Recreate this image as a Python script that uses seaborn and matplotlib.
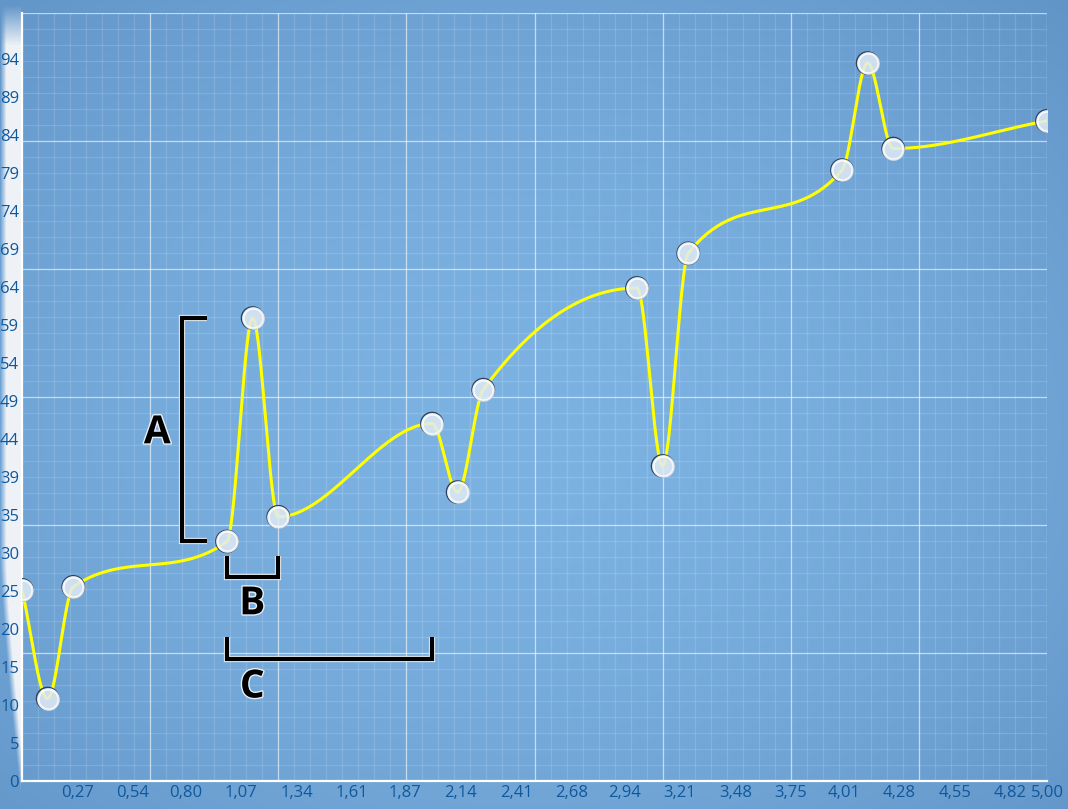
import numpy as np
import pandas as pd
import matplotlib
matplotlib.use('Agg')
import matplotlib.pyplot as plt
import matplotlib.patheffects as pe
import seaborn as sns

# values
x_vals = [0.0, 0.125, 0.25, 1.0, 1.125, 1.25, 2.0, 2.125, 2.25,
          3.0, 3.125, 3.25, 4.0, 4.125, 4.25, 5.0]
y_vals = [24.8, 10.7, 25.2, 31.1, 60.1, 34.3, 46.4, 37.5, 50.8,
          64.0, 40.9, 68.5, 79.3, 93.2, 82.1, 85.7]

x_tick_labels = ['0,27', '0,54', '0,80', '1,07', '1,34', '1,61', '1,87', '2,14', '2,41',
                 '2,68', '2,94', '3,21', '3,48', '3,75', '4,01', '4,28', '4,55', '4,82', '5,00']
y_tick_labels = ['0', '5', '10', '15', '20', '25', '30', '35', '39', '44', '49', '54',
                 '59', '64', '69', '74', '79', '84', '89', '94']
y_tick_step = 4.93
y_max = 99.7
x_max = 5.0

df = pd.DataFrame({'x': x_vals, 'y': y_vals})


def smooth_curve(xs, ys, n=60):
    # monotone cubic (pchip-like) through the points
    x = np.asarray(xs, float)
    y = np.asarray(ys, float)
    h = np.diff(x)
    d = np.diff(y) / h
    m = np.zeros_like(y)
    m[0], m[-1] = d[0], d[-1]
    for i in range(1, len(x) - 1):
        if d[i - 1] * d[i] > 0:
            w1 = 2 * h[i] + h[i - 1]
            w2 = h[i] + 2 * h[i - 1]
            m[i] = (w1 + w2) / (w1 / d[i - 1] + w2 / d[i])
    out_x, out_y = [], []
    t = np.linspace(0, 1, n)
    for i in range(len(x) - 1):
        h00 = 2 * t ** 3 - 3 * t ** 2 + 1
        h10 = t ** 3 - 2 * t ** 2 + t
        h01 = -2 * t ** 3 + 3 * t ** 2
        h11 = t ** 3 - t ** 2
        out_x.append(x[i] + t * h[i])
        out_y.append(h00 * y[i] + h10 * h[i] * m[i] + h01 * y[i + 1] + h11 * h[i] * m[i + 1])
    return np.concatenate(out_x), np.concatenate(out_y)


cx, cy = smooth_curve(df['x'], df['y'])
curve_df = pd.DataFrame({'x': cx, 'y': cy})

sns.set_style('white')
plt.rcParams['font.family'] = ['Open Sans', 'DejaVu Sans']

W, H = 1068, 809
fig = plt.figure(figsize=(W / 100, H / 100), dpi=100)

# background: blue glow, lighter in the middle, darker corners; pale strip at the left
yy, xx = np.mgrid[0:H, 0:W]
r = np.sqrt(((xx - 520) / 820) ** 2 + ((yy - 430) / 620) ** 2)
k = 1 - np.clip(r, 0, 1) ** 1.8
dark = np.array([0x5f, 0x92, 0xc5]) / 255
light = np.array([0x7c, 0xb2, 0xe2]) / 255
img = dark + (light - dark) * k[..., None]
strip = xx < 21
pale = np.array([0xee, 0xf2, 0xf7]) / 255
fade_top = np.clip((yy - 5) / 40, 0, 1)
swoosh = 21 * np.clip((yy - 560) / 240, 0, None) ** 1.3
white_mask = strip & (xx >= swoosh)
w = (fade_top * np.clip((xx - swoosh) / 6, 0, 1))[..., None]
img = np.where(white_mask[..., None], img * (1 - w) + pale * w, img)
bg = fig.add_axes([0, 0, 1, 1], zorder=-10)
bg.imshow(img, aspect='auto', extent=[0, W, H, 0])
bg.axis('off')

ax = fig.add_axes([22 / W, 28 / H, 1025 / W, 768 / H])
ax.set_facecolor('none')
ax.set_xlim(0, x_max)
ax.set_ylim(0, y_max)

# pixel-like grid: minor every 1/64 of width, major every 1/8
for gx in np.linspace(0, x_max, 65):
    ax.axvline(gx, color='white', alpha=0.14, lw=0.9, zorder=0)
for gx in np.linspace(0, x_max, 9)[1:]:
    ax.axvline(gx, color='white', alpha=0.55, lw=0.9, zorder=0)
for gy in np.linspace(0, y_max, 49):
    ax.axhline(gy, color='white', alpha=0.14, lw=0.9, zorder=0)
for gy in np.linspace(0, y_max, 7)[1:]:
    ax.axhline(gy, color='white', alpha=0.55, lw=0.9, zorder=0)

sns.lineplot(data=curve_df, x='x', y='y', sort=False, color='#ffff00', lw=2.2,
             ax=ax, zorder=3, legend=False)
sns.scatterplot(data=df, x='x', y='y', s=260, color='none', edgecolor='#2f415a',
                linewidth=1.0, ax=ax, zorder=4, legend=False)
sns.scatterplot(data=df, x='x', y='y', s=210, color='#e0eaf4', alpha=0.85,
                edgecolor='white', linewidth=1.8, ax=ax, zorder=5, legend=False)

ax.set_xticks([float(s.replace(',', '.')) for s in x_tick_labels])
ax.set_xticklabels(x_tick_labels)
ax.set_yticks(np.arange(len(y_tick_labels)) * y_tick_step)
ax.set_yticklabels(y_tick_labels)
ax.tick_params(length=0, labelsize=12, labelcolor='#10589c')
ax.tick_params(axis='x', pad=3)
ax.tick_params(axis='y', pad=2)
ax.set_xlabel('')
ax.set_ylabel('')
for side in ['top', 'right']:
    ax.spines[side].set_visible(False)
for side in ['left', 'bottom']:
    ax.spines[side].set_color('white')
    ax.spines[side].set_linewidth(1.6)

# annotation brackets
outline = [pe.Stroke(linewidth=4.5, foreground='#e8f0f8'), pe.Normal()]
bk = dict(color='black', lw=3, solid_capstyle='butt', solid_joinstyle='miter',
          path_effects=outline, zorder=6, clip_on=False)
ya0, ya1 = y_vals[3], y_vals[4]
ax.plot([0.9, 0.78, 0.78, 0.9], [ya1, ya1, ya0, ya0], **bk)
ax.plot([x_vals[3], x_vals[3], x_vals[5], x_vals[5]], [29.2, 26.5, 26.5, 29.2], **bk)
ax.plot([x_vals[3], x_vals[3], x_vals[6], x_vals[6]], [18.7, 15.8, 15.8, 18.7], **bk)

txt_fx = [pe.Stroke(linewidth=2, foreground='#e8f0f8'), pe.Normal()]
for lab, tx, ty in [('A', 0.66, 45.2), ('B', 1.123, 23.0), ('C', 1.123, 12.2)]:
    ax.text(tx, ty, lab, fontsize=28, fontweight='bold', color='black',
            ha='center', va='center', path_effects=txt_fx, zorder=6)

fig.savefig('out.png', dpi=100)
